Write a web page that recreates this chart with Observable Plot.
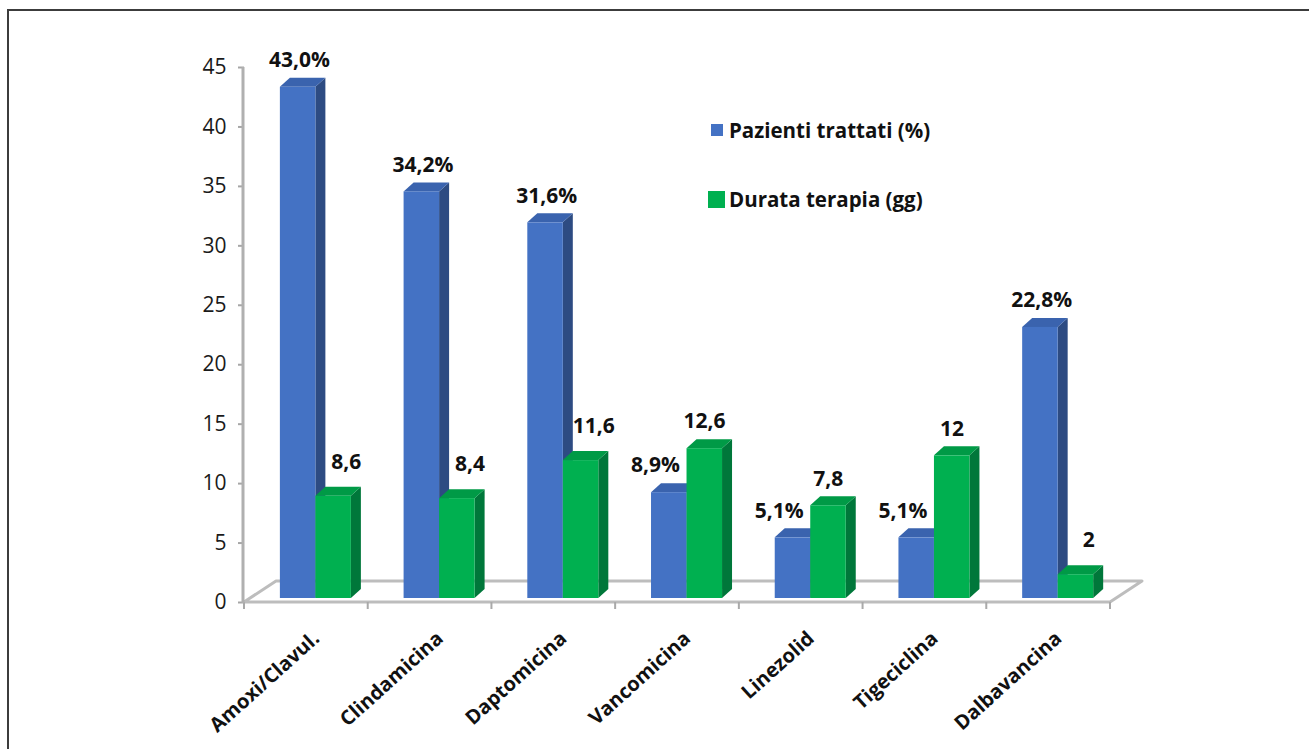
<!DOCTYPE html>
<html>
<head>
<meta charset="utf-8">
<script src="https://cdn.jsdelivr.net/npm/d3@7"></script>
<script src="https://cdn.jsdelivr.net/npm/@observablehq/plot@0.6"></script>
<style>
  html, body { margin: 0; padding: 0; background: #fff; overflow: hidden; }
  #wrap { position: relative; width: 1309px; height: 749px; }
  #border { position: absolute; left: 7px; top: 9px; width: 1400px; height: 800px;
            border-top: 2px solid #3c3c3c; border-left: 2px solid #3c3c3c; }
  #chart { position: absolute; left: 0; top: 0; }
  #chart svg { overflow: visible; }
  .leg { position: absolute; left: 708px; font-family: "Open Sans", sans-serif; font-weight: bold;
         font-size: 20.5px; color: #111; display: flex; align-items: center; white-space: nowrap; }
  .sw { display: inline-block; margin-right: 5px; }
</style>
</head>
<body>
<div id="wrap">
  <div id="border"></div>
  <div id="chart"></div>
  <div id="legend"></div>
</div>
<script>
// ---- data ----
const categories = ["Amoxi/Clavul.", "Clindamicina", "Daptomicina", "Vancomicina", "Linezolid", "Tigeciclina", "Dalbavancina"];
const pazientiTrattati = [43.0, 34.2, 31.6, 8.9, 5.1, 5.1, 22.8];   // %
const durataTerapia = [8.6, 8.4, 11.6, 12.6, 7.8, 12, 2];          // gg
const seriesNames = ["Pazienti trattati (%)", "Durata terapia (gg)"];
const yTicks = [0, 5, 10, 15, 20, 25, 30, 35, 40, 45];

const rows = categories.map((cat, i) => ({cat, blue: pazientiTrattati[i], green: durataTerapia[i]}));

// ---- styling ----
const palette = {
  blue:  {front: "#4472c4", side: "#2d4b82", top: "#3a63ae"},
  green: {front: "#00b050", side: "#00773a", top: "#009a46"}
};
const FLOOR_DEPTH = [32, -21];
const BAR_DEPTH = [10, -9];
const BAR_LIFT = 4;
const BAR_START = 0.29, BAR_W = 0.287;

const fmtPct = v => v.toFixed(1).replace(".", ",") + "%";
const fmtNum = v => String(v).replace(".", ",");

function scene(index, scales, values, dim) {
  const x = scales.x, y = scales.y;
  const bw = x.bandwidth();
  const g = d3.create("svg:g");
  const left = x(categories[0]);
  const right = x(categories[categories.length - 1]) + bw;
  const base = y(0);
  const [fx, fy] = FLOOR_DEPTH;
  // floor
  g.append("path")
    .attr("d", `M${left},${base}L${right},${base}L${right + fx},${base + fy}L${left + fx},${base + fy}Z`)
    .attr("fill", "none").attr("stroke", "#bdbdbd").attr("stroke-width", 3).attr("stroke-linejoin", "round");
  // category boundary ticks
  for (let i = 0; i <= categories.length; i++) {
    const xx = left + i * bw;
    g.append("line").attr("x1", xx).attr("x2", xx).attr("y1", base).attr("y2", base + 7)
      .attr("stroke", "#a9a9a9").attr("stroke-width", 2);
  }
  // value axis line
  g.append("line").attr("x1", left - 1).attr("x2", left - 1)
    .attr("y1", y(yTicks[yTicks.length - 1])).attr("y2", base + 1)
    .attr("stroke", "#b0b0b0").attr("stroke-width", 3);
  // bars
  const [bx, by] = BAR_DEPTH;
  for (const r of rows) {
    ["blue", "green"].forEach((k, j) => {
      const c = palette[k];
      const x0 = x(r.cat) + bw * (BAR_START + j * BAR_W);
      const x1 = x0 + bw * BAR_W;
      const yb = base - BAR_LIFT, yt = y(r[k]) - BAR_LIFT;
      g.append("path").attr("d", `M${x1},${yb}L${x1},${yt}L${x1 + bx},${yt + by}L${x1 + bx},${yb + by}Z`)
        .attr("fill", c.side);
      g.append("path").attr("d", `M${x0},${yt}L${x0 + bx},${yt + by}L${x1 + bx},${yt + by}L${x1},${yt}Z`)
        .attr("fill", c.top);
      g.append("rect").attr("x", x0).attr("y", yt).attr("width", x1 - x0).attr("height", yb - yt)
        .attr("fill", c.front);
    });
  }
  return g.node();
}

const labelStyle = {fontWeight: "bold", fontSize: 21, fill: "#111", lineAnchor: "middle"};

const chart = Plot.plot({
  width: 1309,
  height: 749,
  marginLeft: 244,
  marginRight: 199,
  marginTop: 67,
  marginBottom: 147,
  style: {fontFamily: "'Open Sans', sans-serif", color: "#1a1a1a", background: "transparent", overflow: "visible"},
  x: {type: "band", domain: categories, padding: 0, round: false, axis: null},
  y: {domain: [0, 45], axis: null},
  marks: [
    Plot.axisY({ticks: yTicks, tickSize: 6, tickPadding: 12, stroke: "#a6a6a6", strokeWidth: 2,
                fill: "#1a1a1a", fontSize: 21, label: null, tickFormat: d => String(d)}),
    scene,
    // value labels: Pazienti trattati
    Plot.text(rows.filter(d => d.green <= d.blue), {x: "cat", y: "blue", text: d => fmtPct(d.blue), dx: -7, dy: -31, ...labelStyle}),
    Plot.text(rows.filter(d => d.green > d.blue), {x: "cat", y: "blue", text: d => fmtPct(d.blue), dx: -22, dy: -31, ...labelStyle}),
    // value labels: Durata terapia
    Plot.text(rows.filter(d => d.blue > d.green), {x: "cat", y: "green", text: d => fmtNum(d.green), dx: 40, dy: -38, ...labelStyle}),
    Plot.text(rows.filter(d => d.blue <= d.green), {x: "cat", y: "green", text: d => fmtNum(d.green), dx: 27, dy: -31, ...labelStyle}),
    // category labels
    Plot.text(categories, {x: d => d, frameAnchor: "bottom", text: d => d, rotate: -42, textAnchor: "end",
                           lineAnchor: "middle", dx: 10, dy: 33, fontWeight: "bold", fontSize: 20, fill: "#111"})
  ]
});
document.getElementById("chart").appendChild(chart);

// legend
const legend = document.getElementById("legend");
const legendItems = [
  {name: seriesNames[0], color: palette.blue.front, size: 12, top: 116, left: 711},
  {name: seriesNames[1], color: palette.green.front, size: 17, top: 185, left: 708}
];
for (const it of legendItems) {
  const div = document.createElement("div");
  div.className = "leg";
  div.style.top = it.top + "px";
  div.style.left = it.left + "px";
  const sw = document.createElement("span");
  sw.className = "sw";
  sw.style.width = it.size + "px";
  sw.style.height = it.size + "px";
  sw.style.background = it.color;
  sw.style.marginRight = (729 - it.left - it.size) + "px";
  div.appendChild(sw);
  div.appendChild(document.createTextNode(it.name));
  legend.appendChild(div);
}
</script>
</body>
</html>
